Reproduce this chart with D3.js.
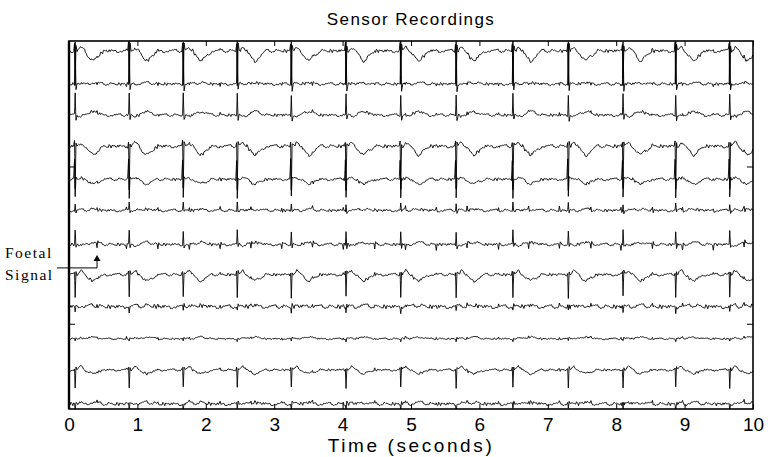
<!DOCTYPE html>
<html>
<head>
<meta charset="utf-8">
<script src="https://cdn.jsdelivr.net/npm/d3@7"></script>
<style>
  body { margin: 0; background: #fff; }
  svg { display: block; }
</style>
</head>
<body>
<div id="chart"></div>
<script>
const W = 772, H = 457;
const margin = {top: 41, right: 19, bottom: 48, left: 69};

// maternal R-peak times (s)
const beatTimes = [0.09, 0.88, 1.67, 2.46, 3.25, 4.05, 4.85, 5.66, 6.49, 7.30, 8.10, 8.87, 9.66];
// foetal beat times (s), small ticks between maternal beats
const foetalTimes = [0.41, 0.84, 1.30, 1.76, 2.21, 2.66, 3.11, 3.56, 4.01, 4.47, 4.92, 5.37, 5.82, 6.28, 6.72, 7.17, 7.63, 8.07, 8.53, 8.97, 9.42, 9.87];

// per channel (top to bottom): baseline level and wave amplitudes
const baselines = [12, 10.97, 10.0, 9.03, 8.0, 7.03, 5.97, 5.03, 4.03, 3.03, 2.06, 1.0];
const qAmp      = [0.25, 0.00, 0.00, 0.15, 0.62, 0.00, 0.00, 0.08, 0.00, 0.00, 0.05, 0.00];
const rAmp      = [-1.05, 1.35, 0.65, -1.35, -0.55, 0.22, 0.42, -0.70, -0.16, -0.08, -0.55, -0.18];
const sAmp      = [0.20, -0.20, -0.15, 0.10, 0.05, -0.06, -0.10, 0.10, 0.04, 0.03, 0.08, 0.04];
const hAmp      = [0.10, 0.02, -0.04, 0.12, 0.05, 0.02, -0.03, 0.14, 0.04, 0.03, 0.12, 0.05];
const tAmp      = [-0.32, 0.04, 0.12, -0.28, -0.15, 0.04, 0.07, -0.20, 0.04, 0.06, -0.12, 0.05];
const foetalAmp = [0.03, -0.06, 0.05, 0.03, 0.03, 0.09, -0.16, 0.04, 0.06, 0.05, 0.03, 0.06];
const noiseAmp  = [0.06, 0.05, 0.05, 0.06, 0.05, 0.05, 0.05, 0.05, 0.07, 0.03, 0.04, 0.06];

// hand-typed ripple used for the baseline fuzz
const jitter = [0.3, -0.5, 0.8, -0.2, 0.1, -0.9, 0.6, 0.2, -0.4, 0.7, -0.6, 0.0,
                0.5, -0.3, -0.8, 0.4, 0.9, -0.1, -0.5, 0.3, 0.6, -0.7, 0.2, -0.2,
                0.8, -0.4, 0.1, 0.5, -0.9, 0.3, -0.1, 0.7, -0.6, 0.4, 0.0, -0.3,
                0.6, -0.8, 0.2, 0.9, -0.5, 0.1, -0.2, 0.4, -0.7, 0.5, 0.3, -0.4];

const xTicks = [0, 1, 2, 3, 4, 5, 6, 7, 8, 9, 10];
const yTicks = [3.5, 8.4];
const noiseStep = 0.014;

const svg = d3.select("#chart").append("svg")
    .attr("width", W)
    .attr("height", H);

const x = d3.scaleLinear().domain([0, 10]).range([margin.left, W - margin.right]);
const y = d3.scaleLinear().domain([0.844, 12.31]).range([H - margin.bottom, margin.top]);

//linear lookup in a list of [dt, value] knots
function knotValue(knots, dt) {
    if (dt <= knots[0][0] || dt >= knots[knots.length-1][0]) return 0;
    for (var i = 1; i < knots.length; i++) {
        if (dt <= knots[i][0]) {
            var a = knots[i-1], b = knots[i];
            return a[1] + (b[1]-a[1]) * (dt-a[0]) / (b[0]-a[0]);
        }
    }
    return 0;
}

function maternalKnots(k) {
    return [[-0.022, 0], [-0.009, qAmp[k]], [0, rAmp[k]], [0.012, sAmp[k]], [0.028, 0],
            [0.08, hAmp[k]], [0.14, 0], [0.2, tAmp[k]*0.6], [0.26, tAmp[k]],
            [0.32, tAmp[k]*0.6], [0.42, 0]];
}

function foetalKnots(k) {
    return [[-0.012, 0], [0, foetalAmp[k]], [0.012, -0.3*foetalAmp[k]], [0.025, 0]];
}

//build the sampled trace of channel k
function buildTrace(k) {
    var mk = maternalKnots(k), fk = foetalKnots(k);
    var times = d3.range(0, 10 + 1e-9, noiseStep);
    beatTimes.forEach(b => mk.forEach(p => times.push(b + p[0])));
    foetalTimes.forEach(b => fk.forEach(p => times.push(b + p[0])));
    times = times.filter(t => t >= 0 && t <= 10).sort((a, b) => a - b);
    return times.map(t => {
        var idx = (Math.round(t / noiseStep) * 7 + k * 11) % jitter.length;
        var v = baselines[k] + noiseAmp[k] * jitter[idx];
        beatTimes.forEach(b => { v += knotValue(mk, t - b); });
        foetalTimes.forEach(b => { v += knotValue(fk, t - b); });
        return [t, v];
    });
}

svg.append("defs").append("clipPath").attr("id", "plotclip")
  .append("rect")
    .attr("x", margin.left)
    .attr("y", margin.top)
    .attr("width", W - margin.left - margin.right)
    .attr("height", H - margin.top - margin.bottom);

const line = d3.line().x(d => x(d[0])).y(d => y(d[1]));

svg.append("g").attr("clip-path", "url(#plotclip)")
  .selectAll("path")
  .data(d3.range(baselines.length).map(buildTrace))
  .enter().append("path")
    .attr("d", line)
    .attr("fill", "none")
    .attr("stroke", "#000")
    .attr("stroke-width", 0.9);

// frame
svg.append("rect")
    .attr("x", margin.left)
    .attr("y", margin.top)
    .attr("width", W - margin.left - margin.right)
    .attr("height", H - margin.top - margin.bottom)
    .attr("fill", "none")
    .attr("stroke", "#000")
    .attr("stroke-width", 1.6);
svg.append("line")
    .attr("x1", margin.left).attr("x2", margin.left)
    .attr("y1", margin.top).attr("y2", H - margin.bottom)
    .attr("stroke", "#000")
    .attr("stroke-width", 2.4);

// inward ticks, bottom axis with labels
const xAxis = svg.append("g")
    .attr("transform", `translate(0,${H - margin.bottom})`)
    .call(d3.axisBottom(x).tickValues(xTicks).tickSizeInner(-5).tickSizeOuter(0).tickPadding(9));
xAxis.select(".domain").remove();
xAxis.selectAll("text")
    .attr("font-family", "Liberation Sans, Arial, sans-serif")
    .attr("font-size", 19)
    .attr("fill", "#000");

const xTop = svg.append("g")
    .attr("transform", `translate(0,${margin.top})`)
    .call(d3.axisTop(x).tickValues(xTicks).tickSizeInner(-5).tickSizeOuter(0).tickFormat(""));
xTop.select(".domain").remove();

const yLeft = svg.append("g")
    .attr("transform", `translate(${margin.left},0)`)
    .call(d3.axisLeft(y).tickValues(yTicks).tickSizeInner(-6).tickSizeOuter(0).tickFormat(""));
yLeft.select(".domain").remove();
const yRight = svg.append("g")
    .attr("transform", `translate(${W - margin.right},0)`)
    .call(d3.axisRight(y).tickValues(yTicks).tickSizeInner(-6).tickSizeOuter(0).tickFormat(""));
yRight.select(".domain").remove();

// title and axis label
svg.append("text")
    .attr("x", 411)
    .attr("y", 25)
    .attr("text-anchor", "middle")
    .attr("font-family", "Liberation Sans, Arial, sans-serif")
    .attr("font-size", 17)
    .attr("letter-spacing", 1.4)
    .text("Sensor Recordings");

svg.append("text")
    .attr("x", 411)
    .attr("y", 452)
    .attr("text-anchor", "middle")
    .attr("font-family", "Liberation Sans, Arial, sans-serif")
    .attr("font-size", 19)
    .attr("letter-spacing", 2.6)
    .text("Time (seconds)");

// foetal signal annotation
const annX = x(foetalTimes[0]), annY = y(5.24);
svg.append("text")
    .attr("x", 5).attr("y", 258)
    .attr("font-family", "Liberation Serif, Times New Roman, serif")
    .attr("font-size", 15.5)
    .attr("letter-spacing", 1.5)
    .text("Foetal");
svg.append("text")
    .attr("x", 5).attr("y", 280)
    .attr("font-family", "Liberation Serif, Times New Roman, serif")
    .attr("font-size", 15.5)
    .attr("letter-spacing", 1.5)
    .text("Signal");
svg.append("path")
    .attr("d", `M57,${annY}H${annX}V${annY - 9}`)
    .attr("fill", "none")
    .attr("stroke", "#000")
    .attr("stroke-width", 1);
svg.append("path")
    .attr("d", `M${annX - 3.5},${annY - 7}L${annX},${annY - 13}L${annX + 3.5},${annY - 7}Z`)
    .attr("fill", "#000");
</script>
</body>
</html>
